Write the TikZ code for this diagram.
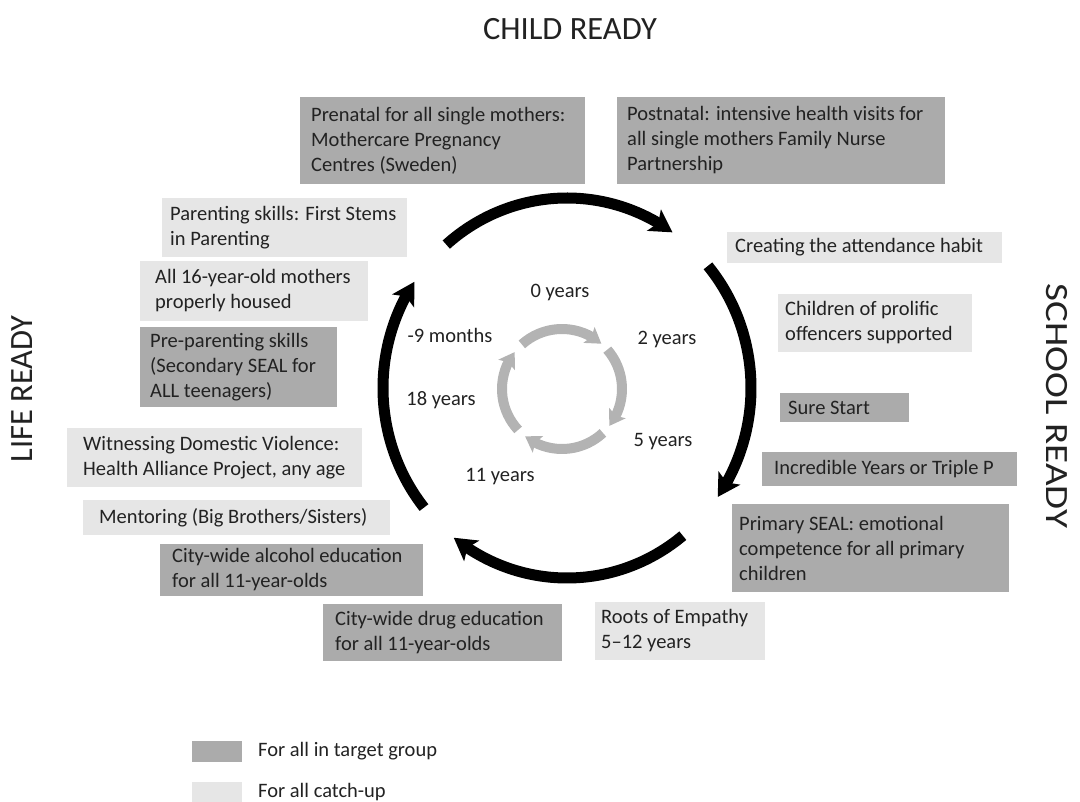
\documentclass[tikz,border=0pt]{standalone}
\usepackage{fontspec}
\setmainfont{Carlito}
\usetikzlibrary{arrows.meta,bending}
\definecolor{darkg}{HTML}{ABABAB}
\definecolor{lightg}{HTML}{E6E6E6}
\definecolor{ringg}{HTML}{B3B3B3}
\definecolor{textc}{HTML}{222222}
\newcommand\mybody{\fontsize{20.5}{25}\selectfont}
\newcommand\mytitle{\fontsize{32.5}{34}\selectfont}
\tikzset{
  box/.style={draw=none, inner sep=0pt, outer sep=0pt},
  dbox/.style={box, fill=darkg},
  lbox/.style={box, fill=lightg},
  txt/.style={font=\mybody, align=left, inner sep=0pt, anchor=west, text=textc},
  lbl/.style={font=\mybody, inner sep=0pt, text=textc},
  ttl/.style={font=\mytitle, inner sep=0pt, text=textc},
  bigarc/.style={line width=11pt, black, -{Stealth[length=22pt,width=25pt,inset=5pt]}},
  ringarc/.style={line width=10pt, ringg, -{Stealth[length=15pt,width=19pt,inset=3pt]}}
}
\begin{document}
\begin{tikzpicture}[x=1pt,y=1pt]
\useasboundingbox (0,0) rectangle (1080,-802);
% titles
\node[ttl] (child) at (570,-29) {CHILD READY};
\node[ttl, rotate=-90] (school) at (1057,-406) {\scalebox{1.2}[1]{SCHOOL READY}};
\node[ttl, rotate=90] (life) at (22,-389) {LIFE READY};
% boxes
\node[dbox, minimum width=285pt, minimum height=87pt] (prenatal) at (442.5,-140.5) {};
\node[txt] (prenatalt) at ([xshift=11pt]prenatal.west) {Prenatal for all single mothers:\\Mothercare Pregnancy\\Centres (Sweden)};
\node[dbox, minimum width=328pt, minimum height=87pt] (postnatal) at (781,-140.5) {};
\node[txt] (postnatalt) at ([xshift=10pt]postnatal.west) {Postnatal: intensive health visits for\\all single mothers Family Nurse\\Partnership};
\node[lbox, minimum width=245pt, minimum height=59pt] (parenting) at (284.5,-227.5) {};
\node[txt] (parentingt) at ([xshift=8pt]parenting.west) {Parenting skills: First Stems\\in Parenting};
\node[lbox, minimum width=228pt, minimum height=60pt] (housed) at (254,-291) {};
\node[txt] (housedt) at ([xshift=15pt]housed.west) {All 16-year-old mothers\\properly housed};
\node[dbox, minimum width=197pt, minimum height=80pt] (prepar) at (238.5,-367) {};
\node[txt] (prepart) at ([xshift=10pt]prepar.west) {Pre-parenting skills\\(Secondary SEAL for\\ALL teenagers)};
\node[lbox, minimum width=295pt, minimum height=59pt] (witness) at (214.5,-457.5) {};
\node[txt] (witnesst) at ([xshift=16pt]witness.west) {Witnessing Domestic Violence:\\Health Alliance Project, any age};
\node[lbox, minimum width=307pt, minimum height=35pt] (mentor) at (236.5,-517.5) {};
\node[txt] (mentort) at ([xshift=16pt]mentor.west) {Mentoring (Big Brothers/Sisters)};
\node[dbox, minimum width=263pt, minimum height=52pt] (alcohol) at (291.5,-570) {};
\node[txt] (alcoholt) at ([xshift=12pt]alcohol.west) {City-wide alcohol education\\for all 11-year-olds};
\node[dbox, minimum width=239pt, minimum height=57pt] (drug) at (442.5,-632.5) {};
\node[txt] (drugt) at ([xshift=12pt]drug.west) {City-wide drug education\\for all 11-year-olds};
\node[lbox, minimum width=170pt, minimum height=58pt] (roots) at (680,-631) {};
\node[txt] (rootst) at ([xshift=6pt]roots.west) {Roots of Empathy\\5–12 years};
\node[lbox, minimum width=275pt, minimum height=31pt] (creating) at (864.5,-247.5) {};
\node[txt] (creatingt) at ([xshift=8pt]creating.west) {Creating the attendance habit};
\node[lbox, minimum width=194pt, minimum height=58pt] (children) at (875,-323) {};
\node[txt] (childrent) at ([xshift=7pt]children.west) {Children of prolific\\offencers supported};
\node[dbox, minimum width=129pt, minimum height=29pt] (sure) at (844.5,-407.5) {};
\node[txt] (suret) at ([xshift=8pt]sure.west) {Sure Start};
\node[dbox, minimum width=255pt, minimum height=34pt] (incred) at (889.5,-469) {};
\node[txt] (incredt) at ([xshift=12pt]incred.west) {Incredible Years or Triple P};
\node[dbox, minimum width=277pt, minimum height=88pt] (primary) at (870.5,-548) {};
\node[txt] (primaryt) at ([xshift=7pt]primary.west) {Primary SEAL: emotional\\competence for all primary\\children};
% big cycle
\coordinate (c) at (567,-388);
\draw[bigarc] ([shift={(131:184pt and 190pt)}]c) arc[start angle=131, end angle=55, x radius=184pt, y radius=190pt];
\draw[bigarc] ([shift={(40:184pt and 190pt)}]c) arc[start angle=40, end angle=-35, x radius=184pt, y radius=190pt];
\draw[bigarc] ([shift={(-51:184pt and 190pt)}]c) arc[start angle=-51, end angle=-128, x radius=184pt, y radius=190pt];
\draw[bigarc] ([shift={(-141:184pt and 190pt)}]c) arc[start angle=-141, end angle=-214, x radius=184pt, y radius=190pt];
% inner ring
\coordinate (ci) at (562,-389);
\draw[ringarc] ([shift={(132:60pt)}]ci) arc[start angle=132, end angle=49, radius=60pt];
\draw[ringarc] ([shift={(41:60pt)}]ci) arc[start angle=41, end angle=-38, radius=60pt];
\draw[ringarc] ([shift={(-47:60pt)}]ci) arc[start angle=-47, end angle=-128, radius=60pt];
\draw[ringarc] ([shift={(-137:60pt)}]ci) arc[start angle=-137, end angle=-218, radius=60pt];
% ages
\node[lbl] (y0) at (560,-293) {0 years};
\node[lbl] (y2) at (667,-340) {2 years};
\node[lbl] (y5) at (663,-442) {5 years};
\node[lbl] (y11) at (500,-477) {11 years};
\node[lbl] (y18) at (441,-400) {18 years};
\node[lbl] (m9) at (450,-335) {-9 months};
% legend
\node[dbox, minimum width=50pt, minimum height=21pt] (legd) at (217,-751.5) {};
\node[txt] (legdt) at (258,-751) {For all in target group};
\node[lbox, minimum width=50pt, minimum height=21pt] (legl) at (217,-792.5) {};
\node[txt] (leglt) at (258,-792) {For all catch-up};
\end{tikzpicture}
\end{document}
